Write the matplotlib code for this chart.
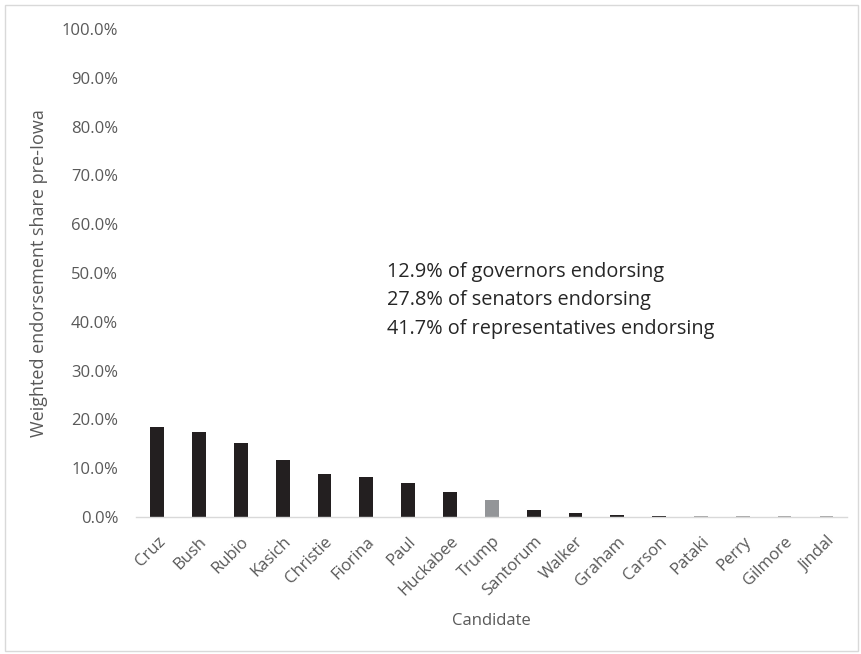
import matplotlib.pyplot as plt
from matplotlib.patches import Rectangle
from matplotlib.ticker import FuncFormatter

plt.rcParams['font.family'] = ['Open Sans', 'DejaVu Sans']

## donnees
candidates = ['Cruz', 'Bush', 'Rubio', 'Kasich', 'Christie', 'Fiorina', 'Paul', 'Huckabee',
              'Trump', 'Santorum', 'Walker', 'Graham', 'Carson', 'Pataki', 'Perry', 'Gilmore', 'Jindal']
share = [18.4, 17.4, 15.2, 11.7, 8.8, 8.2, 7.0, 5.1, 3.5, 1.4, 0.8, 0.5, 0.3, 0.1, 0.1, 0.1, 0.1]
notes = ['12.9% of governors endorsing',
         '27.8% of senators endorsing',
         '41.7% of representatives endorsing']

txtcol = '#595959'
colors = ['#939598' if c == 'Trump' else '#231F20' for c in candidates]
colors = [('#A6A6A6' if v <= 0.1 else c) for c, v in zip(colors, share)]

fig = plt.figure(figsize=(8.62, 6.54), dpi=100)
ax = fig.add_axes([0.158, 0.2095, 0.825, 0.7462])

x = range(len(candidates))
ax.bar(x, share, width=0.33, color=colors)
ax.set_xlim(-0.5, len(candidates) - 0.5)
ax.set_ylim(0, 100)
ax.set_yticks(range(0, 101, 10))
ax.yaxis.set_major_formatter(FuncFormatter(lambda v, p: '%.1f%%' % v))
ax.set_xticks(list(x))
ax.set_xticklabels(candidates, rotation=45, ha='right', rotation_mode='anchor')
ax.tick_params(axis='both', length=0, labelsize=12, colors=txtcol)
ax.tick_params(axis='y', pad=13)
ax.tick_params(axis='x', pad=12)

for s in ['top', 'right', 'left']:
    ax.spines[s].set_visible(False)
ax.spines['bottom'].set_color('#D9D9D9')
ax.spines['bottom'].set_linewidth(1.0)

ax.set_ylabel('Weighted endorsement share pre-Iowa', fontsize=13, color=txtcol, labelpad=10)
ax.set_xlabel('Candidate', fontsize=12, color=txtcol, labelpad=10)

for i, n in enumerate(notes):
    fig.text(387 / 862, 1 - (272 + i * 28.5) / 654, n, fontsize=14.3, color='#262626', va='center')

fig.patches.append(Rectangle((5 / 862, 3 / 654), 853 / 862, 646 / 654, transform=fig.transFigure,
                             fill=False, edgecolor='#D9D9D9', linewidth=1))

fig.savefig('out.png', dpi=100)
